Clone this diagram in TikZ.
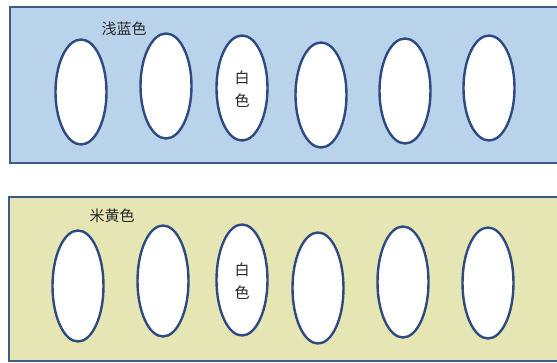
\documentclass[tikz,border=0pt]{standalone}
\usepackage{fontspec}
\newfontfamily\cjk{Noto Sans CJK SC}
\definecolor{lblue}{RGB}{185,211,234}
\definecolor{beige}{RGB}{229,230,180}
\definecolor{rimc}{RGB}{62,90,138}
\definecolor{ovalc}{RGB}{45,75,130}
\tikzset{
  panel/.style={draw=rimc, line width=2pt},
  oval/.style={draw=ovalc, fill=white, line width=2.4pt},
  lbl/.style={font=\cjk\fontsize{15}{17}\selectfont, text=black!85, inner sep=0pt},
  vlbl/.style={font=\cjk\fontsize{15}{23}\selectfont, text=black!85, inner sep=0pt, align=center}
}
\begin{document}
\begin{tikzpicture}[x=1pt,y=-1pt]
\useasboundingbox (0,0) rectangle (557,363);
\clip (0,0) rectangle (557,363);
\fill[white] (0,0) rectangle (557,363);
% top panel
\path[panel, fill=lblue] (10,7) rectangle (575,163);
\foreach \n/\cx/\cy in {t1/81/92, t2/166/86, t3/242/88, t4/321/95, t5/405/91, t6/489/88}{
  \path[oval] (\cx,\cy) ellipse [x radius=25.5, y radius=52.5];
}
\node[lbl] (lblA) at (124,29) {浅蓝色};
\node[vlbl] (whiteA) at (242,89) {白\\色};
% bottom panel
\path[panel, fill=beige] (9,197) rectangle (575,361);
\foreach \n/\cx/\cy in {b1/78/286, b2/163/281, b3/242/280, b4/318/288, b5/403/282, b6/488/283}{
  \path[oval] (\cx,\cy) ellipse [x radius=25.5, y radius=55.5];
}
\node[lbl] (lblB) at (112,216) {米黄色};
\node[vlbl] (whiteB) at (242,281) {白\\色};
\end{tikzpicture}
\end{document}
